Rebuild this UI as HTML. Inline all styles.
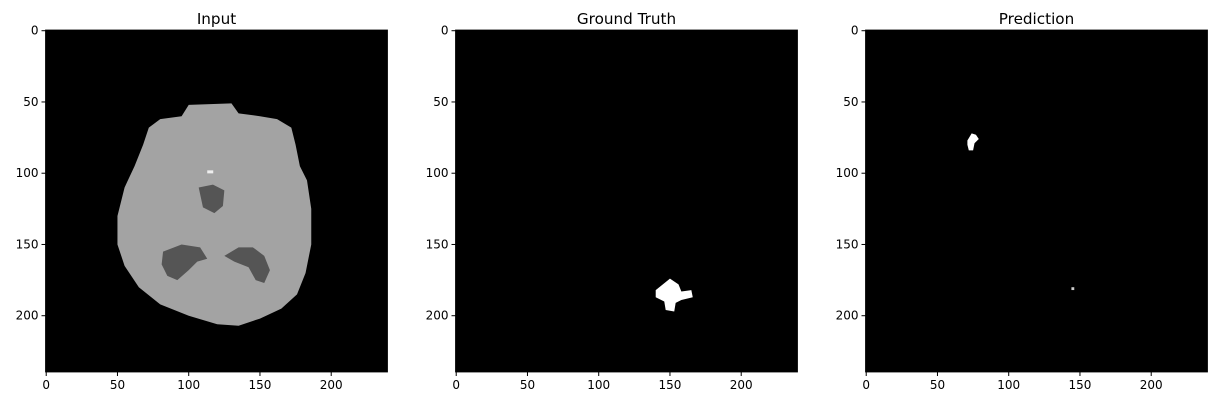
<!DOCTYPE html>
<html><head><meta charset="utf-8">
<style>
body{margin:0;background:#fff;width:1222px;height:407px;overflow:hidden;font-family:"Liberation Sans","DejaVu Sans",sans-serif}
svg text{font-family:"DejaVu Sans","Liberation Sans",sans-serif}
</style></head>
<body>
<svg id="fig" width="1222" height="407" xmlns="http://www.w3.org/2000/svg"></svg>
<script>
const titles=["Input","Ground Truth","Prediction"];
const ticks=[0,50,100,150,200];
const panelLefts=[45.5,455.5,865.5];
const top0=30, size=342, N=240;
const brain=[[100,52],[130,51],[135,58],[150,60],[162,62],[172,68],[175,80],[178,95],[183,105],[186,125],[186,150],[182,170],[176,185],[165,195],[150,202],[135,207],[120,206],[100,200],[80,192],[65,180],[55,165],[50,150],[50,130],[55,110],[62,95],[68,80],[72,68],[80,62],[95,60]];
const ventL=[[82,155],[95,150],[108,152],[113,160],[106,162],[100,168],[92,175],[85,172],[81,164]];
const ventR=[[125,158],[135,152],[145,152],[153,158],[157,168],[153,177],[147,175],[142,166],[132,162]];
const ventC=[[107,110],[117,108],[125,112],[124,123],[118,128],[110,124]];
const gtBlob=[[140,182],[145,178],[150,174],[156,178],[158,183],[165,182],[166,187],[158,189],[154,191],[153,197],[147,196],[146,190],[140,187]];
const predBlob=[[71,77],[74,72],[77,73],[79,76],[76,79],[75,84],[72,84],[71,80]];
const predDot=[[144,180],[146,180],[146,182],[144,182]];
const svg=document.getElementById('fig');
const NS="http://www.w3.org/2000/svg";
function mk(t,a,p){const e=document.createElementNS(NS,t);for(const k in a)e.setAttribute(k,a[k]);(p||svg).appendChild(e);return e;}
const sc=size/N;
titles.forEach((t,i)=>{
  const L=panelLefts[i];
  const X=v=>L+(v+0.5)*sc, Y=v=>top0+(v+0.5)*sc;
  const pts=a=>a.map(p=>X(p[0])+","+Y(p[1])).join(" ");
  const g=mk('g',{});
  
  
  const bg=mk('rect',{x:L,y:top0,width:size,height:size,fill:'#000'},g);
  
  if(i===0){
    const b=mk('polygon',{points:pts(brain),fill:'#a3a3a3'},g);
    
    [ventL,ventR,ventC].forEach(v=>{const e=mk('polygon',{points:pts(v),fill:'#555'},g);
      });
    mk('rect',{x:X(113),y:Y(98),width:6,height:3,fill:'#eee'},g);
  } else if(i===1){
    const e=mk('polygon',{points:pts(gtBlob),fill:'#fff'},g);
    
  } else {
    const e=mk('polygon',{points:pts(predBlob),fill:'#fff'},g);
    
    const d=mk('polygon',{points:pts(predDot),fill:'#ccc'},g);
    
  }
  mk('rect',{x:L,y:top0,width:size,height:size,fill:'none',stroke:'#000','stroke-width':0.8},g);
  const tt=mk('text',{x:L+size/2,y:top0-6,'text-anchor':'middle','font-size':15.2,fill:'#000'},g);
  tt.textContent=t;
  ticks.forEach(v=>{
    mk('line',{x1:X(v),x2:X(v),y1:top0+size,y2:top0+size+4,stroke:'#000'},g);
    const xl=mk('text',{x:X(v),y:top0+size+17,'text-anchor':'middle','font-size':12},g);
    xl.textContent=v;
    mk('line',{x1:L-4,x2:L,y1:Y(v),y2:Y(v),stroke:'#000'},g);
    const yl=mk('text',{x:L-7,y:Y(v)+4,'text-anchor':'end','font-size':12},g);
    yl.textContent=v;
  });
});
</script>
</body></html>
